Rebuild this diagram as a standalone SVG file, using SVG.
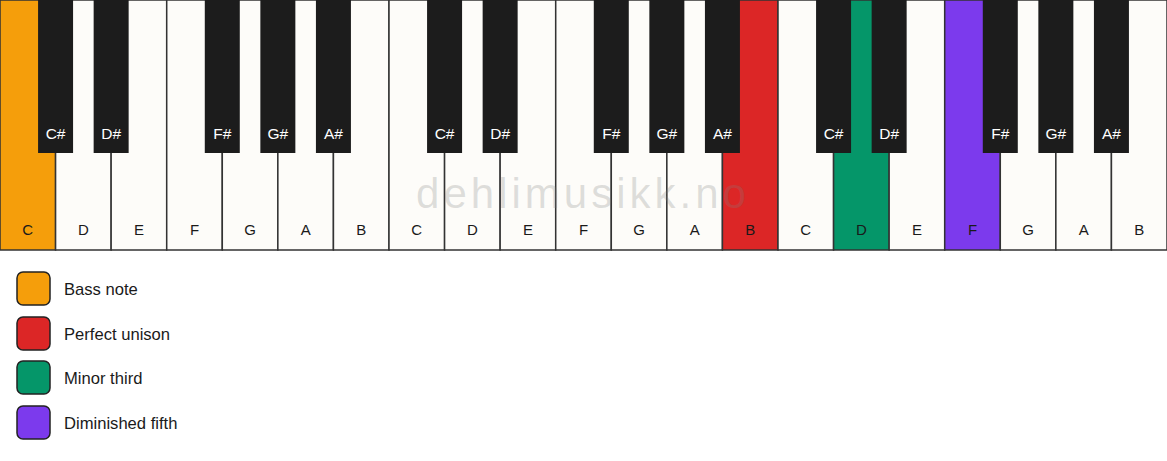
<svg xmlns="http://www.w3.org/2000/svg" width="1167" height="461" viewBox="0 0 1167 461">
<style>
.w{fill:#fdfcf9;stroke:#333;stroke-width:1.5}
.b{fill:#1c1c1c}
.wl{font-family:"Liberation Sans",Arial,sans-serif;font-size:15px;fill:#1a1a1a;text-anchor:middle}
.bl{font-family:"Liberation Sans",Arial,sans-serif;font-size:15.5px;fill:#ffffff;text-anchor:middle}
.lg{stroke:#222;stroke-width:1.5}
.lt{font-family:"Liberation Sans",Arial,sans-serif;font-size:16.6px;fill:#1a1a1a}
.wm{font-family:"Liberation Sans",Arial,sans-serif;font-size:42px;fill:#808080;fill-opacity:0.25;letter-spacing:4px;text-anchor:middle}
</style>
<rect width="1167" height="461" fill="#ffffff"/>
<g id="white-keys">
<g id="w0"><rect class="w" x="0" y="0" width="55.571" height="250" style="fill:#f59e0b"/><text class="wl" x="27.79" y="235">C</text></g>
<g id="w1"><rect class="w" x="55.571" y="0" width="55.571" height="250"/><text class="wl" x="83.36" y="235">D</text></g>
<g id="w2"><rect class="w" x="111.143" y="0" width="55.571" height="250"/><text class="wl" x="138.93" y="235">E</text></g>
<g id="w3"><rect class="w" x="166.714" y="0" width="55.571" height="250"/><text class="wl" x="194.5" y="235">F</text></g>
<g id="w4"><rect class="w" x="222.286" y="0" width="55.571" height="250"/><text class="wl" x="250.07" y="235">G</text></g>
<g id="w5"><rect class="w" x="277.857" y="0" width="55.571" height="250"/><text class="wl" x="305.64" y="235">A</text></g>
<g id="w6"><rect class="w" x="333.429" y="0" width="55.571" height="250"/><text class="wl" x="361.21" y="235">B</text></g>
<g id="w7"><rect class="w" x="389" y="0" width="55.571" height="250"/><text class="wl" x="416.79" y="235">C</text></g>
<g id="w8"><rect class="w" x="444.571" y="0" width="55.571" height="250"/><text class="wl" x="472.36" y="235">D</text></g>
<g id="w9"><rect class="w" x="500.143" y="0" width="55.571" height="250"/><text class="wl" x="527.93" y="235">E</text></g>
<g id="w10"><rect class="w" x="555.714" y="0" width="55.571" height="250"/><text class="wl" x="583.5" y="235">F</text></g>
<g id="w11"><rect class="w" x="611.286" y="0" width="55.571" height="250"/><text class="wl" x="639.07" y="235">G</text></g>
<g id="w12"><rect class="w" x="666.857" y="0" width="55.571" height="250"/><text class="wl" x="694.64" y="235">A</text></g>
<g id="w13"><rect class="w" x="722.429" y="0" width="55.571" height="250" style="fill:#dc2626"/><text class="wl" x="750.21" y="235">B</text></g>
<g id="w14"><rect class="w" x="778" y="0" width="55.571" height="250"/><text class="wl" x="805.79" y="235">C</text></g>
<g id="w15"><rect class="w" x="833.571" y="0" width="55.571" height="250" style="fill:#059669"/><text class="wl" x="861.36" y="235">D</text></g>
<g id="w16"><rect class="w" x="889.143" y="0" width="55.571" height="250"/><text class="wl" x="916.93" y="235">E</text></g>
<g id="w17"><rect class="w" x="944.714" y="0" width="55.571" height="250" style="fill:#7c3aed"/><text class="wl" x="972.5" y="235">F</text></g>
<g id="w18"><rect class="w" x="1000.286" y="0" width="55.571" height="250"/><text class="wl" x="1028.07" y="235">G</text></g>
<g id="w19"><rect class="w" x="1055.857" y="0" width="55.571" height="250"/><text class="wl" x="1083.64" y="235">A</text></g>
<g id="w20"><rect class="w" x="1111.429" y="0" width="55.571" height="250"/><text class="wl" x="1139.21" y="235">B</text></g>
</g>
<g id="black-keys">
<g id="b0"><rect class="b" x="38.071" y="0" width="35" height="153"/><text class="bl" x="55.57" y="139">C#</text></g>
<g id="b1"><rect class="b" x="93.643" y="0" width="35" height="153"/><text class="bl" x="111.14" y="139">D#</text></g>
<g id="b2"><rect class="b" x="204.786" y="0" width="35" height="153"/><text class="bl" x="222.29" y="139">F#</text></g>
<g id="b3"><rect class="b" x="260.357" y="0" width="35" height="153"/><text class="bl" x="277.86" y="139">G#</text></g>
<g id="b4"><rect class="b" x="315.929" y="0" width="35" height="153"/><text class="bl" x="333.43" y="139">A#</text></g>
<g id="b5"><rect class="b" x="427.071" y="0" width="35" height="153"/><text class="bl" x="444.57" y="139">C#</text></g>
<g id="b6"><rect class="b" x="482.643" y="0" width="35" height="153"/><text class="bl" x="500.14" y="139">D#</text></g>
<g id="b7"><rect class="b" x="593.786" y="0" width="35" height="153"/><text class="bl" x="611.29" y="139">F#</text></g>
<g id="b8"><rect class="b" x="649.357" y="0" width="35" height="153"/><text class="bl" x="666.86" y="139">G#</text></g>
<g id="b9"><rect class="b" x="704.929" y="0" width="35" height="153"/><text class="bl" x="722.43" y="139">A#</text></g>
<g id="b10"><rect class="b" x="816.071" y="0" width="35" height="153"/><text class="bl" x="833.57" y="139">C#</text></g>
<g id="b11"><rect class="b" x="871.643" y="0" width="35" height="153"/><text class="bl" x="889.14" y="139">D#</text></g>
<g id="b12"><rect class="b" x="982.786" y="0" width="35" height="153"/><text class="bl" x="1000.29" y="139">F#</text></g>
<g id="b13"><rect class="b" x="1038.357" y="0" width="35" height="153"/><text class="bl" x="1055.86" y="139">G#</text></g>
<g id="b14"><rect class="b" x="1093.929" y="0" width="35" height="153"/><text class="bl" x="1111.43" y="139">A#</text></g>
</g>
<text id="watermark" class="wm" x="583" y="208">dehlimusikk.no</text>
<g id="legend">
<g id="lg-bass"><rect class="lg" x="17" y="272" width="33" height="33" rx="6" fill="#f59e0b"/><text class="lt" x="64" y="295">Bass note</text></g>
<g id="lg-unison"><rect class="lg" x="17" y="317" width="33" height="33" rx="6" fill="#dc2626"/><text class="lt" x="64" y="340">Perfect unison</text></g>
<g id="lg-third"><rect class="lg" x="17" y="361" width="33" height="33" rx="6" fill="#059669"/><text class="lt" x="64" y="384">Minor third</text></g>
<g id="lg-fifth"><rect class="lg" x="17" y="406" width="33" height="33" rx="6" fill="#7c3aed"/><text class="lt" x="64" y="429">Diminished fifth</text></g>
</g>
<g id="connectors"></g>
</svg>
